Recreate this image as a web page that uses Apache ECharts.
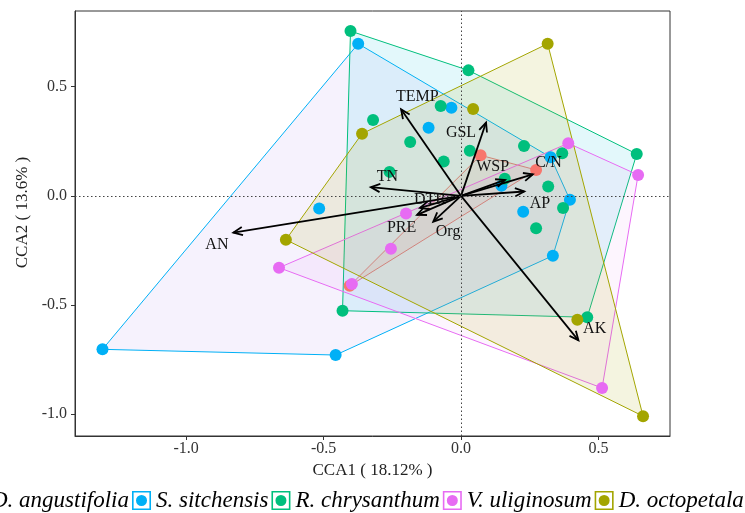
<!DOCTYPE html>
<html>
<head>
<meta charset="utf-8">
<script src="https://cdn.jsdelivr.net/npm/echarts@6/dist/echarts.min.js"></script>
<style>html,body{margin:0;padding:0;background:#fff;}#chart{width:745px;height:513px;}</style>
</head>
<body>
<div id="chart"></div>
<script>
// ---------- data ----------
const categories = ['D. angustifolia', 'S. sitchensis', 'R. chrysanthum', 'V. uliginosum', 'D. octopetala'];

const angustifoliaX = [0.071, 0.273, -0.405];
const angustifoliaY = [0.186, 0.119, -0.412];

const sitchensisX = [-0.374, -0.035, -0.118, 0.326, 0.396, 0.147, 0.226, 0.334, -0.516, -1.304, -0.456];
const sitchensisY = [0.697, 0.404, 0.3125, 0.177, -0.018, 0.046, -0.073, -0.274, -0.058, -0.703, -0.729];

const chrysanthumX = [-0.402, 0.027, 0.639, 0.459, -0.431, -0.074, -0.320, -0.185, -0.063, 0.032, 0.229, 0.368, 0.317, 0.371, 0.273, 0.159, -0.260];
const chrysanthumY = [0.755, 0.575, 0.192, -0.556, -0.526, 0.412, 0.348, 0.247, 0.157, 0.207, 0.229, 0.195, 0.043, -0.055, -0.148, 0.079, 0.110];

const uliginosumX = [0.390, 0.644, 0.513, -0.662, -0.200, -0.255, -0.397];
const uliginosumY = [0.241, 0.096, -0.880, -0.329, -0.081, -0.242, -0.404];

const octopetalaX = [0.315, 0.044, -0.360, -0.637, 0.662, 0.423];
const octopetalaY = [0.697, 0.398, 0.285, -0.201, -1.009, -0.567];

const envNames = ['TEMP', 'GSL', 'TN', 'AN', 'AK', 'AP', 'C/N', 'WSP', 'DTR', 'PRE', 'Org'];
const arrowX = [-0.218, 0.091, -0.328, -0.828, 0.427, 0.230, 0.261, 0.160, -0.149, -0.160, -0.101];
const arrowY = [0.397, 0.336, 0.040, -0.168, -0.662, 0.020, 0.099, 0.073, -0.055, -0.087, -0.118];
const labelX = [-0.159, 0.000, -0.268, -0.888, 0.486, 0.287, 0.318, 0.115, -0.113, -0.216, -0.047];
const labelY = [0.452, 0.287, 0.088, -0.224, -0.610, -0.034, 0.150, 0.131, -0.018, -0.147, -0.164];

const xTicks = [-1.0, -0.5, 0.0, 0.5];
const yTicks = [-1.0, -0.5, 0.0, 0.5];

// ---------- styles ----------
const pointColors = ['#F8766D', '#00B0F6', '#00BF7D', '#E76BF3', '#A3A500'];
const fillColors = ['rgba(248,118,109,0.12)', 'rgba(170,140,240,0.11)', 'rgba(0,190,220,0.11)', 'rgba(231,107,243,0.07)', 'rgba(163,165,0,0.12)'];
const serif = '"Liberation Serif", "Times New Roman", serif';

const groupsX = [angustifoliaX, sitchensisX, chrysanthumX, uliginosumX, octopetalaX];
const groupsY = [angustifoliaY, sitchensisY, chrysanthumY, uliginosumY, octopetalaY];

function hull(xs, ys) {
  const pts = xs.map((x, i) => [x, ys[i]]).sort((a, b) => a[0] - b[0] || a[1] - b[1]);
  const cross = (o, a, b) => (a[0] - o[0]) * (b[1] - o[1]) - (a[1] - o[1]) * (b[0] - o[0]);
  const lower = [];
  for (const p of pts) { while (lower.length >= 2 && cross(lower[lower.length - 2], lower[lower.length - 1], p) <= 0) lower.pop(); lower.push(p); }
  const upper = [];
  for (let i = pts.length - 1; i >= 0; i--) { const p = pts[i]; while (upper.length >= 2 && cross(upper[upper.length - 2], upper[upper.length - 1], p) <= 0) upper.pop(); upper.push(p); }
  upper.pop(); lower.pop();
  return lower.concat(upper);
}

const series = [];
// hulls
categories.forEach((name, g) => {
  const h = hull(groupsX[g], groupsY[g]);
  series.push({
    type: 'custom', name: 'hull-' + g, z: 1, silent: true,
    data: [[h[0][0], h[0][1]]],
    renderItem: function (params, api) {
      const pts = h.map(p => api.coord(p));
      return {
        type: 'polygon',
        shape: { points: pts },
        style: { fill: fillColors[g], stroke: pointColors[g], lineWidth: 1 }
      };
    }
  });
});
// reference dotted lines
series.push({
  type: 'scatter', name: 'ref', data: [], z: 2, silent: true,
  markLine: {
    silent: true, symbol: ['none', 'none'], label: { show: false },
    lineStyle: { type: [1.5, 2.5], color: '#444', width: 1 },
    data: [{ xAxis: 0 }, { yAxis: 0 }]
  }
});
// points
categories.forEach((name, g) => {
  series.push({
    type: 'scatter', name: name, z: 3,
    symbol: 'circle', symbolSize: 12,
    itemStyle: { color: pointColors[g], opacity: 1 },
    data: groupsX[g].map((x, i) => [x, groupsY[g][i]])
  });
});
// arrows
series.push({
  type: 'custom', name: 'env', z: 4, silent: true,
  data: arrowX.map((x, i) => [x, arrowY[i]]),
  renderItem: function (params, api) {
    const i = params.dataIndex;
    const o = api.coord([0, 0]);
    const t = api.coord([api.value(0), api.value(1)]);
    const ang = Math.atan2(t[1] - o[1], t[0] - o[0]);
    const L = 10, s = 0.42;
    const h1 = [t[0] - L * Math.cos(ang - s), t[1] - L * Math.sin(ang - s)];
    const h2 = [t[0] - L * Math.cos(ang + s), t[1] - L * Math.sin(ang + s)];
    const lp = api.coord([labelX[i], labelY[i]]);
    return {
      type: 'group',
      children: [
        { type: 'line', shape: { x1: o[0], y1: o[1], x2: t[0], y2: t[1] }, style: { stroke: '#000', lineWidth: 1.8 } },
        { type: 'polyline', shape: { points: [h1, t, h2] }, style: { stroke: '#000', lineWidth: 1.8, fill: null } },
        { type: 'text', x: lp[0], y: lp[1], style: { text: envNames[i], font: '16px ' + serif, fill: '#111', align: 'center', verticalAlign: 'middle' } }
      ]
    };
  }
});

const KEY = 'path://M0,0L19,0L19,19L0,19Z M1.6,1.6L1.6,17.4L17.4,17.4L17.4,1.6Z M9.5,4A5.5,5.5 0 1,0 9.5,15A5.5,5.5 0 1,0 9.5,4Z';

const option = {
  animation: false,
  grid: { left: 75, top: 11, right: 75, bottom: 77, show: true, borderColor: '#333', borderWidth: 1, backgroundColor: 'transparent' },
  legend: {
    left: -33, top: 489, padding: 0, itemGap: 3, itemWidth: 19, itemHeight: 19,
    data: categories.map(n => ({ name: n, icon: KEY })),
    textStyle: { fontFamily: serif, fontStyle: 'italic', fontSize: 23, color: '#000' }
  },
  xAxis: {
    type: 'value', min: -1.404, max: 0.76,
    name: 'CCA1 ( 18.12% )', nameLocation: 'middle', nameGap: 22,
    nameTextStyle: { fontFamily: serif, fontSize: 17, color: '#222' },
    axisLine: { show: true, onZero: false, lineStyle: { color: '#333', width: 1 } },
    axisTick: { show: true, length: 4, customValues: xTicks, lineStyle: { color: '#333' } },
    axisLabel: { customValues: xTicks, margin: 5, formatter: v => v.toFixed(1), fontFamily: serif, fontSize: 16, color: '#333' },
    splitLine: { show: false }
  },
  yAxis: {
    type: 'value', min: -1.1, max: 0.847,
    name: 'CCA2 ( 13.6% )', nameLocation: 'middle', nameGap: 41,
    nameTextStyle: { fontFamily: serif, fontSize: 17, color: '#222', padding: [0, 0, 0, 22] },
    axisLine: { show: true, onZero: false, lineStyle: { color: '#333', width: 1 } },
    axisTick: { show: true, length: 4, customValues: yTicks, lineStyle: { color: '#333' } },
    axisLabel: { customValues: yTicks, margin: 8, formatter: v => v.toFixed(1), fontFamily: serif, fontSize: 16, color: '#333' },
    splitLine: { show: false }
  },
  series: series
};

const chart = echarts.init(document.getElementById('chart'), null, { renderer: 'canvas' });
chart.setOption(option);
</script>
</body>
</html>
